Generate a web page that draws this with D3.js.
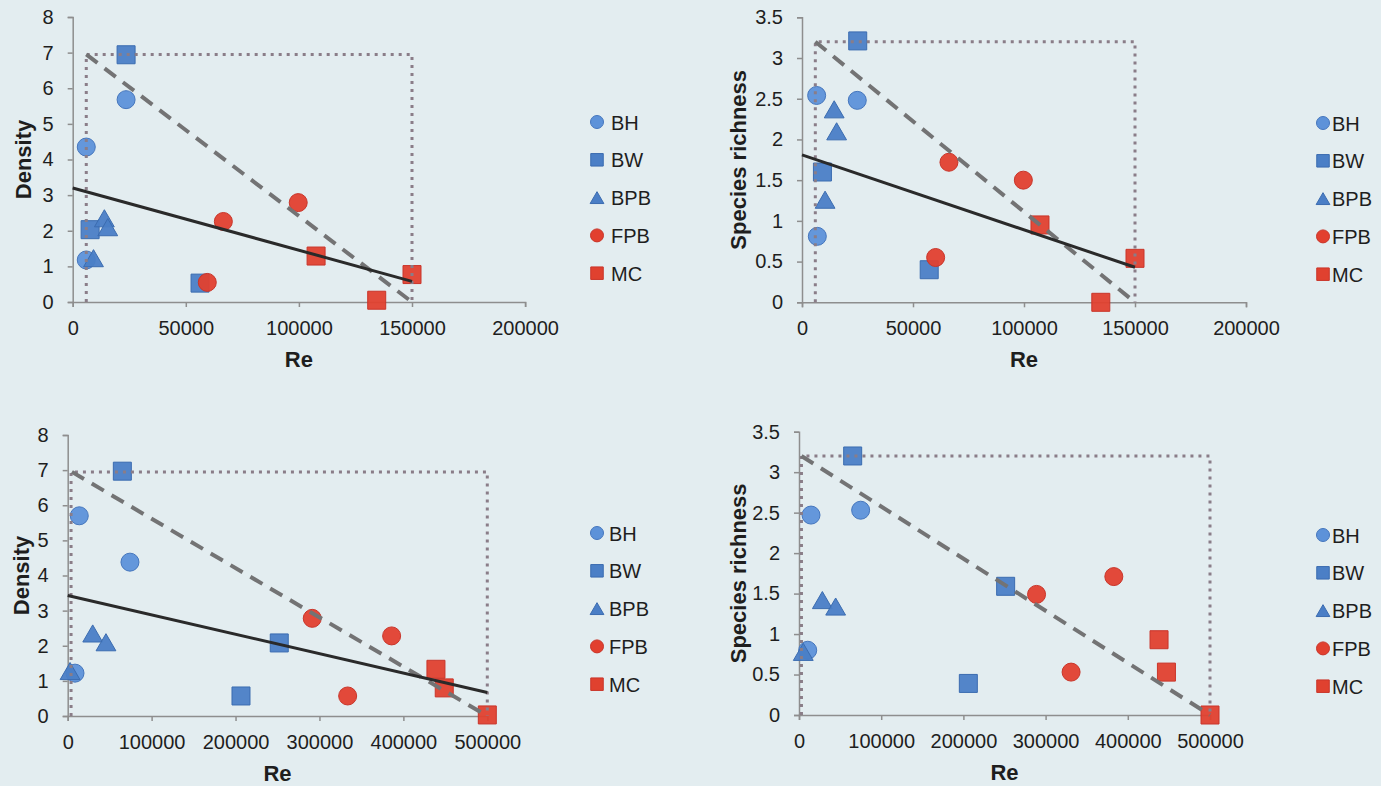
<!DOCTYPE html>
<html><head><meta charset="utf-8">
<script src="https://cdn.jsdelivr.net/npm/d3@7"></script>
<style>
body{margin:0;background:#e3edf0;}
svg{display:block;}
text{font-family:"Liberation Sans",Arial,sans-serif;fill:#1e1e1e;}
</style>
</head><body>
<svg id="chart" width="1381" height="786"></svg>
<script>
// ---------- data ----------
const seriesNames = ["BH", "BW", "BPB", "FPB", "MC"];
const seriesShapes = ["circle", "square", "triangle", "circle", "square"];
const seriesColors = ["#5d92d9", "#4b7fc6", "#4a7ec6", "#e2402f", "#e0412f"];
const seriesStroke = ["#4576bd", "#3b6cb0", "#3b6cb0", "#c9352a", "#c9352a"];

// Panel A (top left): Density vs Re
const densTopBH  = [[6000, 4.35], [23600, 5.68], [6000, 1.18]];
const densTopBW  = [[23600, 6.94], [7700, 2.03], [56300, 0.53]];
const densTopBPB = [[14000, 2.35], [15500, 2.1], [9200, 1.23]];
const densTopFPB = [[66600, 2.26], [99700, 2.79], [59500, 0.55]];
const densTopMC  = [[107600, 1.29], [150000, 0.77], [134400, 0.05]];

// Panel B (top right): Species richness vs Re
const richTopBH  = [[6600, 2.54], [24900, 2.48], [6900, 0.81]];
const richTopBW  = [[25100, 3.21], [9200, 1.6], [57300, 0.4]];
const richTopBPB = [[14500, 2.37], [15600, 2.1], [10400, 1.26]];
const richTopFPB = [[66200, 1.72], [99700, 1.5], [60200, 0.55]];
const richTopMC  = [[107200, 0.95], [150000, 0.54], [134600, 0]];

// Panel C (bottom left): Density vs Re
const densBotBH  = [[13800, 5.7], [74200, 4.38], [8700, 1.22]];
const densBotBW  = [[65100, 6.97], [252100, 2.08], [206500, 0.57]];
const densBotBPB = [[29800, 2.35], [45600, 2.1], [2800, 1.28]];
const densBotFPB = [[291400, 2.78], [386000, 2.28], [333600, 0.57]];
const densBotMC  = [[438800, 1.33], [448700, 0.8], [500000, 0.03]];

// Panel D (bottom right): Species richness vs Re
const richBotBH  = [[14600, 2.47], [75000, 2.53], [10600, 0.8]];
const richBotBW  = [[65300, 3.2], [251400, 1.59], [206000, 0.39]];
const richBotBPB = [[28400, 1.42], [44600, 1.34], [5200, 0.78]];
const richBotFPB = [[289000, 1.49], [383000, 1.71], [331000, 0.53]];
const richBotMC  = [[438000, 0.93], [447000, 0.53], [500000, 0]];

// reference lines: solid = regression, dashed = boundary, dotted = envelope box
const solidA = [[0, 3.2], [150000, 0.58]];
const dashA  = [[6000, 6.95], [150000, 0]];
const boxA   = [[6000, 0], [6000, 6.95], [150000, 6.95], [150000, 0]];
const solidB = [[0, 1.81], [150000, 0.43]];
const dashB  = [[6000, 3.2], [150000, 0]];
const boxB   = [[6000, 0], [6000, 3.2], [150000, 3.2], [150000, 0]];
const solidC = [[0, 3.43], [500000, 0.67]];
const dashC  = [[5000, 6.95], [500000, 0]];
const boxC   = [[4000, 0], [4000, 6.95], [500000, 6.95], [500000, 0]];
const dashD  = [[3000, 3.2], [500000, 0]];
const boxD   = [[3000, 0], [3000, 3.2], [500000, 3.2], [500000, 0]];

const xTicksTop = [0, 50000, 100000, 150000, 200000];
const xTicksBot = [0, 100000, 200000, 300000, 400000, 500000];
const yTicksDens = [0, 1, 2, 3, 4, 5, 6, 7, 8];
const yTicksRich = [0, 0.5, 1, 1.5, 2, 2.5, 3, 3.5];

// ---------- layout ----------
const svg = d3.select("#chart");

const panels = [
  { series: [densTopBH, densTopBW, densTopBPB, densTopFPB, densTopMC],
    xDom: [0, 200000], xRange: [72.7, 525.1], yDom: [0, 8], yRange: [302, 17],
    xTicks: xTicksTop, yTicks: yTicksDens, yTitle: "Density", yTitleX: 31,
    solid: solidA, dash: dashA, box: boxA, legX: 597, legY: 122, legTextX: 611 },
  { series: [richTopBH, richTopBW, richTopBPB, richTopFPB, richTopMC],
    xDom: [0, 200000], xRange: [802, 1246], yDom: [0, 3.5], yRange: [302.3, 17.3],
    xTicks: xTicksTop, yTicks: yTicksRich, yTitle: "Species richness", yTitleX: 746,
    solid: solidB, dash: dashB, box: boxB, legX: 1323, legY: 123, legTextX: 1332 },
  { series: [densBotBH, densBotBW, densBotBPB, densBotFPB, densBotMC],
    xDom: [0, 500000], xRange: [67.7, 487.3], yDom: [0, 8], yRange: [716, 435],
    xTicks: xTicksBot, yTicks: yTicksDens, yTitle: "Density", yTitleX: 29,
    solid: solidC, dash: dashC, box: boxC, legX: 597, legY: 533, legTextX: 609 },
  { series: [richBotBH, richBotBW, richBotBPB, richBotFPB, richBotMC],
    xDom: [0, 500000], xRange: [799, 1210], yDom: [0, 3.5], yRange: [715, 431.7],
    xTicks: xTicksBot, yTicks: yTicksRich, yTitle: "Species richness", yTitleX: 746,
    solid: null, dash: dashD, box: boxD, legX: 1323, legY: 535, legTextX: 1332 }
];

function markerPath(shape, s) {
  if (shape === "circle") {
    return d3.path ? (() => { const p = d3.path(); p.arc(0, 0, s / 2, 0, Math.PI * 2); p.closePath(); return p.toString(); })() : "";
  }
  if (shape === "square") {
    const h = s / 2;
    return `M${-h},${-h}H${h}V${h}H${-h}Z`;
  }
  const w = s * 1.1 / 2, h = s * 0.95 / 2;
  return `M0,${-h}L${w},${h}L${-w},${h}Z`;
}

panels.forEach(p => {
  const x = d3.scaleLinear().domain(p.xDom).range(p.xRange);
  const y = d3.scaleLinear().domain(p.yDom).range(p.yRange);
  const g = svg.append("g");

  // axes
  const xAxis = d3.axisBottom(x).tickValues(p.xTicks).tickSize(5).tickPadding(14).tickFormat(d => String(d));
  const yAxis = d3.axisLeft(y).tickValues(p.yTicks).tickSize(5).tickPadding(14).tickFormat(d => String(d));
  const gx = g.append("g").attr("transform", `translate(0,${p.yRange[0]})`).call(xAxis);
  const gy = g.append("g").attr("transform", `translate(${p.xRange[0]},0)`).call(yAxis);
  [gx, gy].forEach(a => {
    a.selectAll("path.domain").attr("stroke", "#8e8e8e").attr("stroke-width", 1.5);
    a.selectAll(".tick line").attr("stroke", "#8e8e8e").attr("stroke-width", 1.5);
    a.selectAll(".tick text").style("font-size", "20px").attr("fill", "#1e1e1e")
      .style("font-family", "'Liberation Sans', Arial, sans-serif");
  });

  // titles
  g.append("text")
    .attr("x", (p.xRange[0] + p.xRange[1]) / 2).attr("y", p.yRange[0] + 65)
    .attr("text-anchor", "middle").style("font-size", "22px").style("font-weight", "bold")
    .text("Re");
  g.append("text")
    .attr("transform", `translate(${p.yTitleX},${(p.yRange[0] + p.yRange[1]) / 2}) rotate(-90)`)
    .attr("text-anchor", "middle").style("font-size", "22px").style("font-weight", "bold")
    .text(p.yTitle);

  // markers
  p.series.forEach((pts, i) => {
    g.append("g").selectAll("path").data(pts).join("path")
      .attr("d", markerPath(seriesShapes[i], 18))
      .attr("transform", d => `translate(${x(d[0])},${y(d[1])})`)
      .attr("fill", seriesColors[i]).attr("stroke", seriesStroke[i]).attr("stroke-width", 1)
      .attr("fill-opacity", 0.95);
  });

  const line = d3.line().x(d => x(d[0])).y(d => y(d[1]));
  // dotted envelope
  g.append("path").attr("d", line(p.box)).attr("fill", "none")
    .attr("stroke", "#8a7d88").attr("stroke-width", 3).attr("stroke-dasharray", "3,5");
  // dashed boundary
  g.append("path").attr("d", line(p.dash)).attr("fill", "none")
    .attr("stroke", "#737374").attr("stroke-width", 4).attr("stroke-dasharray", "14,9");
  // regression
  if (p.solid) {
    g.append("path").attr("d", line(p.solid)).attr("fill", "none")
      .attr("stroke", "#2a2a2a").attr("stroke-width", 3);
  }

  // legend
  seriesNames.forEach((name, i) => {
    const ly = p.legY + i * 37.8;
    g.append("path").attr("d", markerPath(seriesShapes[i], seriesShapes[i] === "circle" ? 13 : 12.5))
      .attr("transform", `translate(${p.legX},${ly})`)
      .attr("fill", seriesColors[i]).attr("stroke", seriesStroke[i]).attr("stroke-width", 1);
    g.append("text").attr("x", p.legTextX).attr("y", ly + 7.5)
      .style("font-size", "20px").text(name);
  });
});
</script>
</body></html>
